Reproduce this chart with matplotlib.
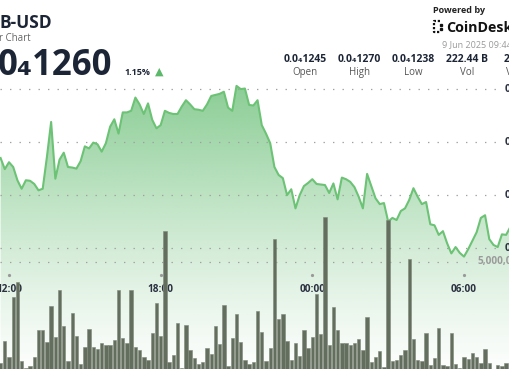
import numpy as np
import matplotlib
matplotlib.use("Agg")
import matplotlib.pyplot as plt
from matplotlib.transforms import blended_transform_factory
from matplotlib.lines import Line2D
from matplotlib.colors import to_rgb

plt.rcParams['font.family'] = ['Open Sans', 'DejaVu Sans']

# 10-minute steps, step 0 = 12:00
steps = np.arange(-2, 120)

# close price in units of 1e-8 USD (0.0₄1257 -> 1257.0)
price_e8 = [
    1257.0, 1254.9, 1256.2, 1255.3, 1252.8, 1251.2, 1252.8, 1252.7, 1252.1, 1250.9,
    1251.2, 1257.2, 1263.8, 1253.1, 1256.7, 1258.0, 1255.3, 1255.2, 1255.0, 1256.4,
    1259.2, 1258.8, 1259.9, 1259.6, 1258.2, 1259.8, 1262.9, 1264.3, 1261.6, 1265.6,
    1265.6, 1265.9, 1268.4, 1267.1, 1265.3, 1267.3, 1264.2, 1262.6, 1263.2, 1265.9,
    1265.5, 1265.3, 1265.3, 1266.7, 1267.9, 1267.1, 1266.2, 1266.1, 1265.9, 1267.1,
    1268.7, 1268.9, 1269.1, 1269.5, 1266.5, 1265.9, 1270.6, 1270.0, 1270.1, 1267.0,
    1266.9, 1267.9, 1263.2, 1261.6, 1259.8, 1255.3, 1253.8, 1253.2, 1250.0, 1251.1,
    1247.5, 1250.0, 1251.7, 1252.3, 1253.0, 1252.1, 1252.0, 1251.9, 1250.4, 1252.2,
    1249.2, 1253.3, 1253.0, 1252.5, 1251.5, 1249.7, 1247.5, 1254.0, 1251.7, 1249.4,
    1248.3, 1248.5, 1245.0, 1245.7, 1245.3, 1247.0, 1247.5, 1249.1, 1251.3, 1249.7,
    1248.3, 1248.7, 1244.5, 1244.3, 1242.5, 1243.2, 1240.9, 1239.0, 1240.2, 1239.1,
    1238.4, 1239.8, 1241.4, 1243.0, 1245.7, 1246.2, 1241.7, 1240.6, 1240.2, 1242.6,
    1242.5, 1244.0,
]

# volume per 10 minutes, billions
volume_b = [
    0.34, 1.34, 0.59, 3.39, 4.06, 0.40, 0.11, 0.20, 0.60, 1.84,
    1.87, 1.28, 2.96, 1.53, 3.69, 2.04, 0.40, 2.65, 1.57, 0.29,
    1.05, 1.91, 1.05, 0.96, 1.26, 1.17, 1.14, 1.39, 3.72, 1.50,
    1.24, 3.70, 1.08, 0.94, 0.59, 0.45, 1.70, 3.10, 1.59, 6.44,
    0.38, 0.69, 2.16, 0.11, 2.08, 0.91, 0.54, 0.29, 0.37, 1.03,
    0.74, 2.05, 1.20, 3.01, 0.20, 1.47, 2.58, 1.31, 0.45, 0.29,
    0.36, 2.73, 1.75, 0.40, 1.00, 6.05, 2.36, 2.59, 1.34, 0.45,
    1.26, 0.65, 1.84, 1.03, 1.53, 3.52, 1.67, 7.07, 1.16, 2.93,
    1.87, 1.26, 1.24, 1.14, 1.26, 1.42, 0.93, 2.45, 0.38, 0.59,
    0.88, 0.15, 6.94, 0.42, 0.48, 0.69, 0.93, 5.15, 1.42, 0.45,
    0.40, 1.70, 0.22, 0.54, 1.94, 0.23, 0.19, 1.70, 0.28, 0.11,
    0.59, 0.50, 0.80, 0.59, 0.34, 0.96, 0.34, 0.02, 0.25, 0.19,
    0.34, 2.08,
]

tick_steps = [0, 36, 72, 108]
tick_labels = ['12:00', '18:00', '00:00', '06:00']
price_grid = [1240, 1250, 1260, 1270]
price_grid_labels = ['0.0₄1240', '0.0₄1250', '0.0₄1260', '0.0₄1270']
vol_grid = [5]
vol_grid_labels = ['5,000,000,000']

stat_values = ['0.0₄1245', '0.0₄1270', '0.0₄1238', '222.44 B', '28.06 M']
stat_names = ['Open', 'High', 'Low', 'Vol', 'Vol USD']

W, H = 510, 369
fig = plt.figure(figsize=(W / 100, H / 100), dpi=100)
fx = lambda px: px / W
fy = lambda py: 1 - py / H

price = np.array(price_e8)
vol = np.array(volume_b)

ax = fig.add_axes([0, 0, 1, 1])
xlo, xhi = -9 / 4.213, 501 / 4.213
plo, phi = 1217.2, 1286.8

# gradient area under the line
green = to_rgb('#5cb96a')
n = 256
rgba = np.zeros((n, 1, 4))
rgba[..., :3] = green
rgba[:, 0, 3] = 0.02 + 0.7 * np.linspace(0, 1, n) ** 1.2
area = ax.fill_between(steps, price, plo - 5, color='none', lw=0)
img = ax.imshow(rgba, extent=[xlo - 2, xhi + 2, plo, 1271], origin='lower',
                aspect='auto', interpolation='bilinear', zorder=1)
img.set_clip_path(area.get_paths()[0], transform=ax.transData)

for p in price_grid:
    ax.axhline(p, xmin=0, xmax=498 / W, color='#a0a0a0', lw=0.9,
               ls=(0, (1.1, 6.5)), zorder=2)
ax.plot(steps, price, color='#6cc275', lw=1.5, zorder=3, solid_joinstyle='round')

ax.set_xlim(xlo, xhi)
ax.set_ylim(plo, phi)
ax.axis('off')

tr = blended_transform_factory(ax.transAxes, ax.transData)
for p, lab in zip(price_grid, price_grid_labels):
    ax.text(fx(505), p, lab, transform=tr, ha='left', va='center',
            fontsize=7.5, fontweight='bold', color='#2a3040')

trx = blended_transform_factory(ax.transData, ax.transAxes)
ax.plot(tick_steps, [fy(275)] * len(tick_steps), transform=trx, ls='none',
        marker='o', ms=1.3, color='#999999')
for s, lab in zip(tick_steps, tick_labels):
    ax.text(s, fy(289), lab, transform=trx, ha='center', va='center',
            fontsize=7.2, fontweight='bold', color='#2a3040')

# volume bars
vax = ax.twinx()
vax.bar(steps, vol, width=0.8, color='#646e5f', edgecolor='#7f8879',
        lw=0.4, zorder=2)
for v in vol_grid:
    vax.axhline(v, xmin=0, xmax=470 / W, color='#a0a0a0', lw=0.9,
                ls=(0, (1.1, 6.5)), zorder=1)
vax.set_ylim(0.046, 17.13)
vax.set_xlim(xlo, xhi)
vax.axis('off')
trv = blended_transform_factory(vax.transAxes, vax.transData)
for v, lab in zip(vol_grid, vol_grid_labels):
    vax.text(fx(478), v, lab, transform=trv, ha='left', va='center',
             fontsize=7.2, fontweight='bold', color='#9a9a9a')

# header
dark = '#1c2536'
fig.text(fx(-1), fy(28), 'B-USD', fontsize=12.5, fontweight='bold', color=dark)
fig.text(fx(-1), fy(41), 'r Chart', fontsize=7, color='#666666')
fig.text(fx(-2), fy(75), '0₄1260', fontsize=25, fontweight='bold', color=dark)
fig.text(fx(124), fy(75), '1.15%', fontsize=6.5, fontweight='bold', color=dark)
fig.text(fx(155), fy(75), '▲', fontsize=8, color='#5cb86a',
         family='DejaVu Sans')

fig.text(fx(433), fy(13), 'Powered by', fontsize=6.5, fontweight='bold', color='#222222')
fig.text(fx(446), fy(32), 'CoinDesk', fontsize=10.3, fontweight='bold', color='#111111')
fig.add_artist(Line2D([fx(440), fx(434), fx(434), fx(440)],
                      [fy(21), fy(21), fy(32), fy(32)],
                      color='#111111', lw=1.6, ls=(0, (1, 0.8))))
fig.add_artist(Line2D([fx(441.5), fx(441.5)], [fy(25), fy(28.5)], color='#111111',
                      lw=1.6, ls='none', marker='s', ms=1.4))
fig.text(fx(442), fy(47), '9 Jun 2025 09:44', fontsize=6.5, color='#9a9a9a')

stat_centers = [305, 359, 413, 467, 524]
for cx, val, name in zip(stat_centers, stat_values, stat_names):
    fig.text(fx(cx), fy(62), val, ha='center', fontsize=7.5, fontweight='bold', color=dark)
    fig.text(fx(cx), fy(75), name, ha='center', fontsize=7, color='#555555')

fig.savefig('out.png', dpi=100)
